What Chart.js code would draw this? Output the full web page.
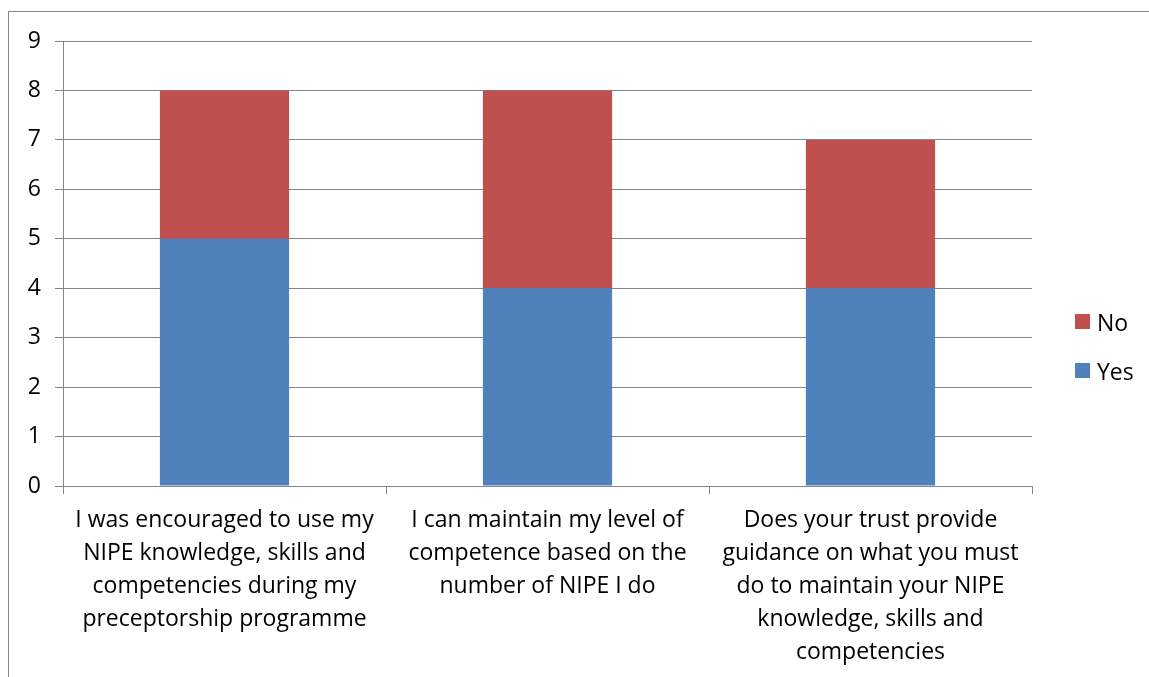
<!DOCTYPE html>
<html>
<head>
<meta charset="utf-8">
<script src="https://cdn.jsdelivr.net/npm/chart.js@4.4.1/dist/chart.umd.min.js"></script>
<style>
body{margin:0;background:#fff;font-family:"Open Sans",sans-serif;}
#wrap{position:relative;width:1149px;height:677px;overflow:hidden;}
#frame{position:absolute;left:8px;top:11px;width:1300px;height:800px;border:1px solid #868686;}
#chart{position:absolute;left:0;top:0;}
#legend{position:absolute;left:1075px;top:297px;font-size:23px;color:#000;}
.item{display:flex;align-items:center;height:49px;}
.sw{width:15px;height:15px;margin-right:7px;}
</style>
</head>
<body>
<div id="wrap">
<div id="frame"></div>
<canvas id="chart" width="1149" height="677"></canvas>
<div id="legend"></div>
</div>
<script>
/* DATA */
const categories = [
['I was encouraged to use my','NIPE knowledge, skills and','competencies during my','preceptorship programme'],
['I can maintain my level of','competence based on the','number of NIPE I do'],
['Does your trust provide','guidance on what you must','do to maintain your NIPE','knowledge, skills and','competencies']
];
const yesValues = [5,4,4];
const noValues = [3,4,3];
const yMin = 0, yMax = 9, yStep = 1;

const seriesNames = ['Yes','No'];
const seriesColors = ['#4F81BD','#C0504D'];
const gridColor = '#868686';
const font = {family:'"Open Sans", sans-serif', size:23};

/* CHART */
const chart = new Chart(
document.getElementById('chart'),
{
type:'bar',
data:{
labels:categories,
datasets:[
{label:seriesNames[0],data:yesValues,backgroundColor:seriesColors[0]},
{label:seriesNames[1],data:noValues,backgroundColor:seriesColors[1]}
]
},
options:{
responsive:false,
animation:false,
layout:{padding:{top:41,right:117,bottom:0,left:0}},
plugins:{legend:{display:false},tooltip:{enabled:false}},
datasets:{bar:{barPercentage:0.4,categoryPercentage:1}},
scales:{
x:{
stacked:true,
grid:{color:gridColor,drawOnChartArea:false,tickLength:8,offset:true},
border:{color:gridColor},
ticks:{color:'#000',font:{...font,lineHeight:1.435},maxRotation:0,autoSkip:false,padding:10},
afterFit:s=>{s.height=191;}
},
y:{
stacked:true,
min:yMin,max:yMax,
grid:{color:gridColor,tickLength:8},
border:{color:gridColor},
ticks:{color:'#000',font:font,stepSize:yStep,padding:14},
afterFit:s=>{s.width=63;}
}
}
}
}
);

/* LEGEND (top entry is the last series, as in the original) */
const legend = document.getElementById('legend');
for(let i=seriesNames.length-1;i>=0;i--){
const row = document.createElement('div');
row.className='item';
row.innerHTML='<span class="sw" style="background:'+seriesColors[i]+'"></span><span>'+seriesNames[i]+'</span>';
legend.appendChild(row);
}
</script>
</body>
</html>
